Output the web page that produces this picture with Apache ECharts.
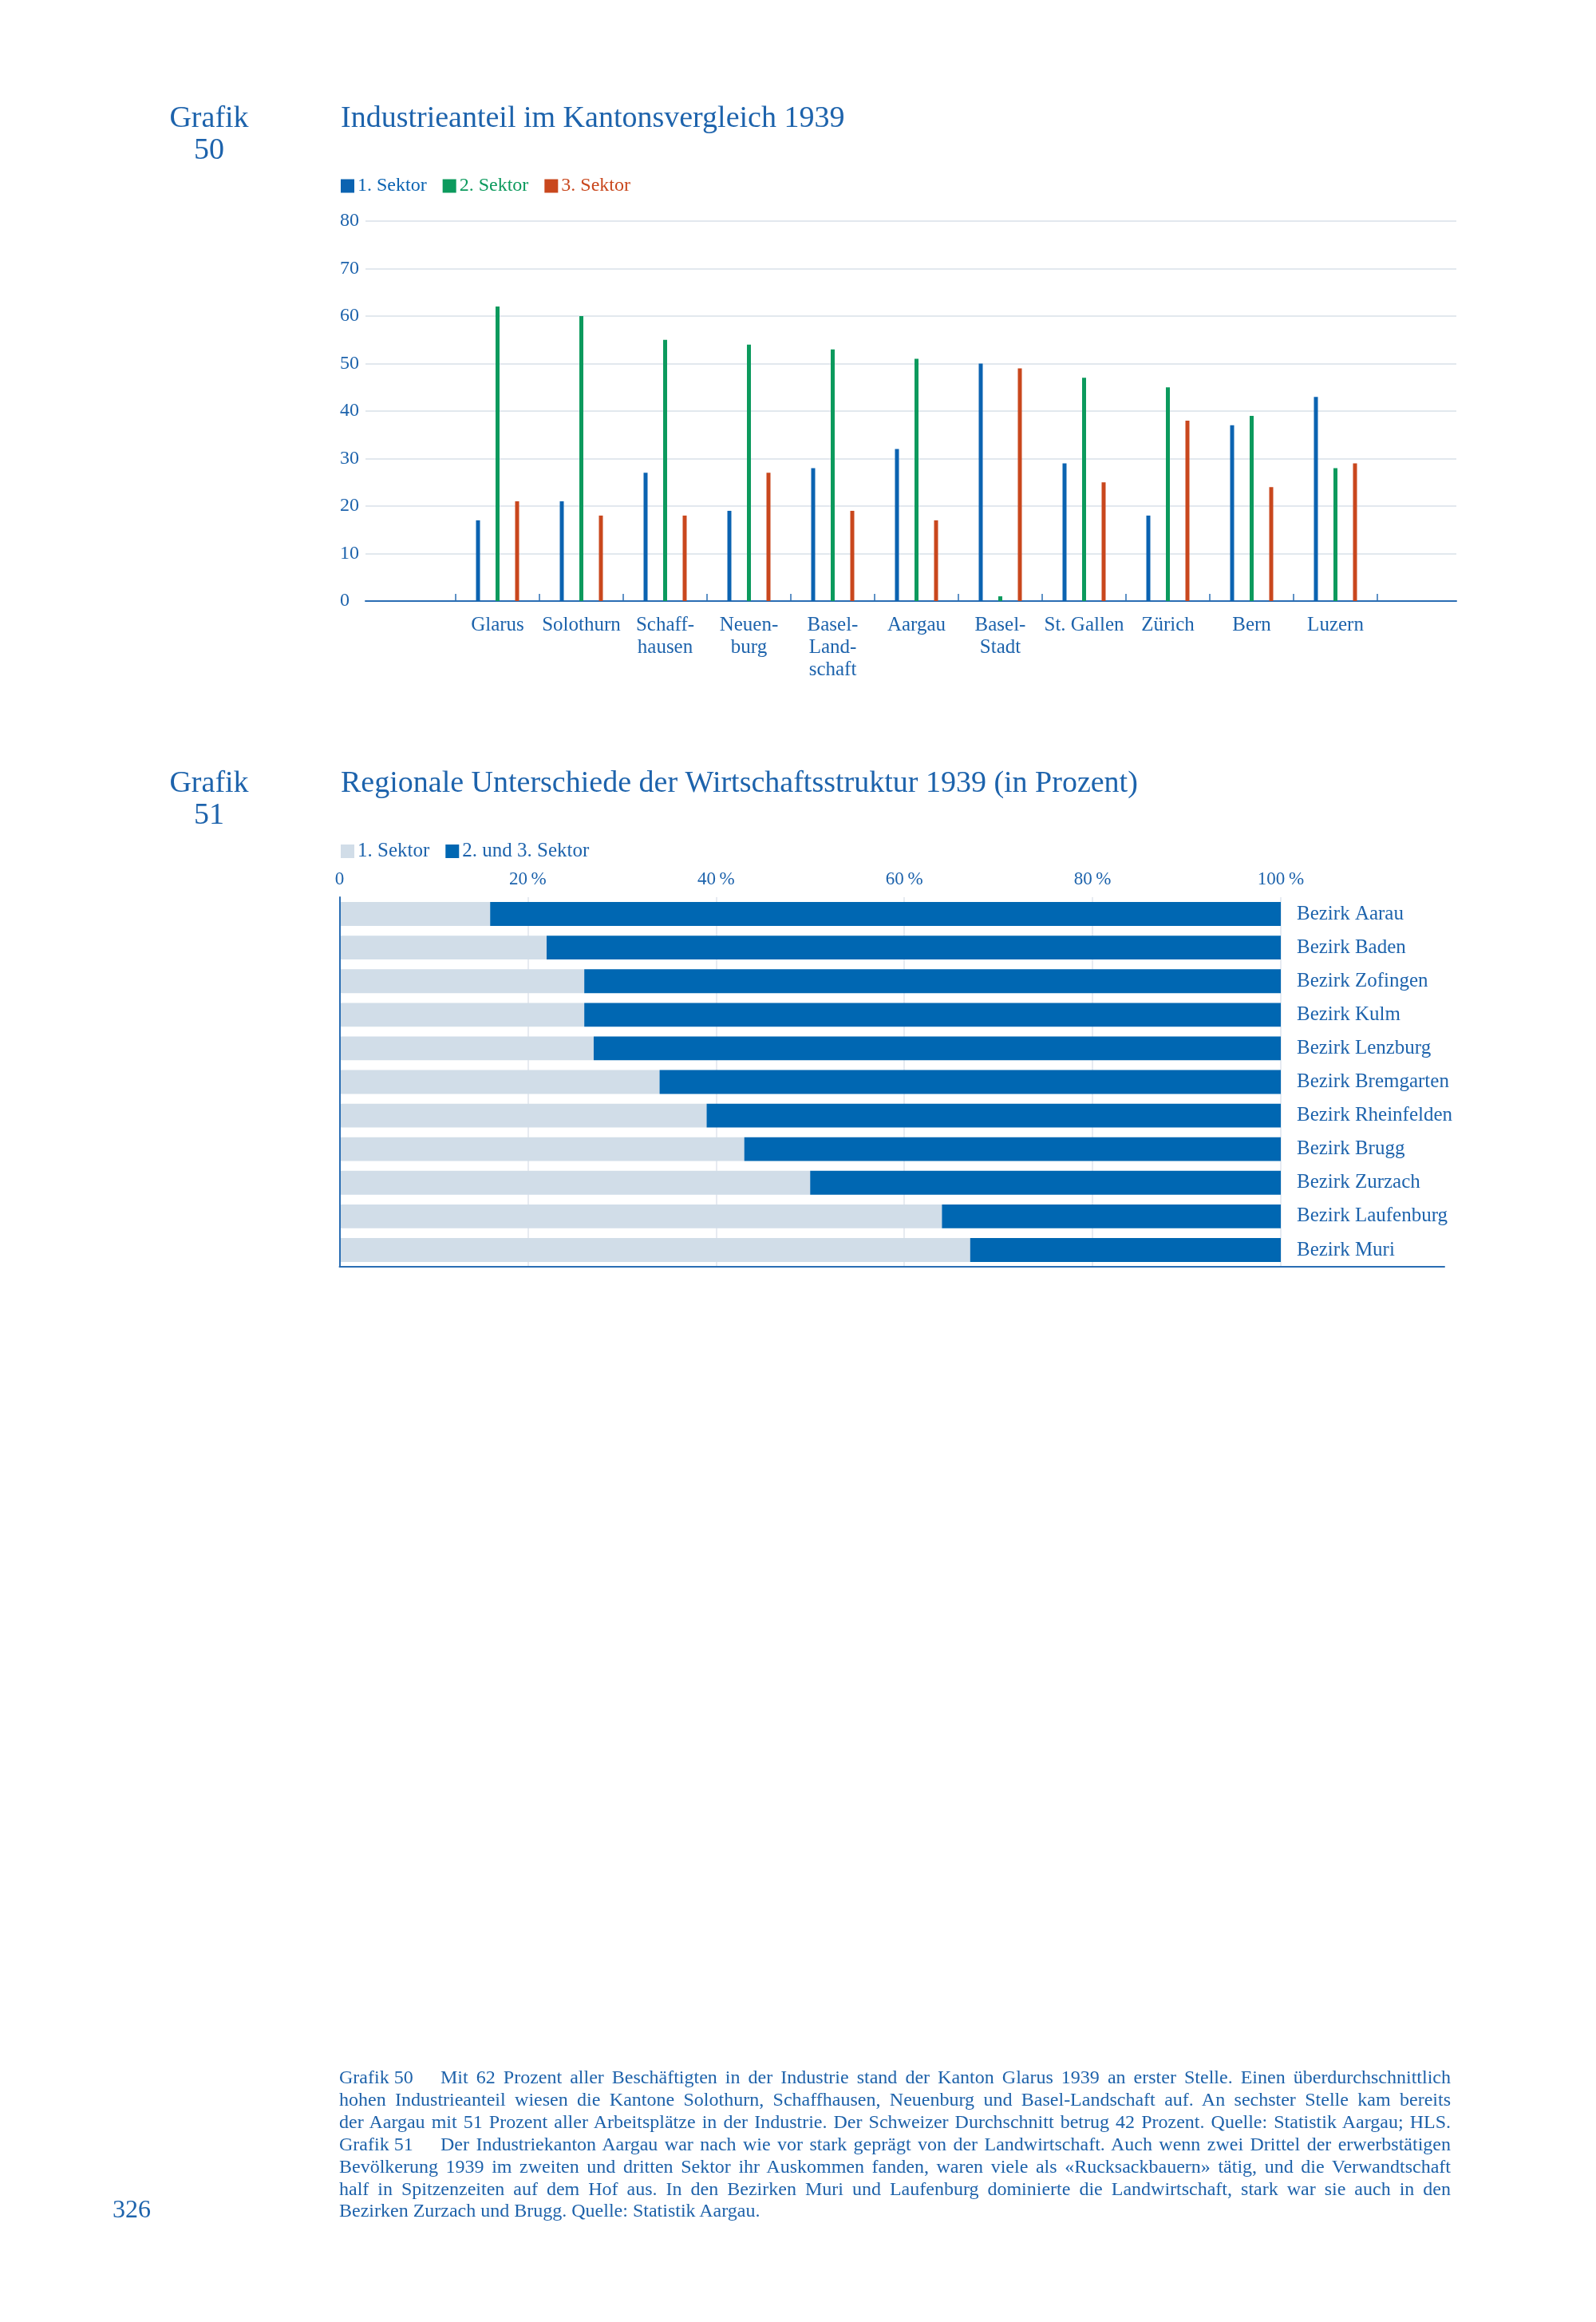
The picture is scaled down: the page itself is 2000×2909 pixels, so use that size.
<!DOCTYPE html>
<html>
<head>
<meta charset="utf-8">
<script src="https://cdn.jsdelivr.net/npm/echarts@6/dist/echarts.min.js"></script>
<style>
  html, body { margin: 0; padding: 0; background: #fff; }
  #page { position: relative; width: 2000px; height: 2909px; }
  #chart { position: absolute; left: 0; top: 0; width: 2000px; height: 2909px; }
  #caption {
    position: absolute; left: 425px; top: 2589px; width: 1393px;
    font-family: 'Liberation Serif', 'DejaVu Serif', serif;
    font-size: 24px; line-height: 27.9px; color: #1e62aa;
  }
  #caption div { text-align: justify; text-align-last: justify; white-space: nowrap; }
  #caption div.last { text-align-last: left; }
  #caption span.lead { display: inline-block; width: 127px; text-align-last: left; }
</style>
</head>
<body>
<div id="page">
  <div id="chart"></div>
  <div id="caption"></div>
</div>
<script>
// Grafik 50: share of employees per sector (%), 1939
const kantone = ['Glarus', 'Solothurn', 'Schaff-\nhausen', 'Neuen-\nburg', 'Basel-\nLand-\nschaft',
  'Aargau', 'Basel-\nStadt', 'St. Gallen', 'Zürich', 'Bern', 'Luzern'];
const sektor1 = [17, 21, 27, 19, 28, 32, 50, 29, 18, 37, 43];
const sektor2 = [62, 60, 55, 54, 53, 51, 1, 47, 45, 39, 28];
const sektor3 = [21, 18, 18, 27, 19, 17, 49, 25, 38, 24, 29];
const yTicks50 = [0, 10, 20, 30, 40, 50, 60, 70, 80];

// Grafik 51: regional structure (%), 1939
const bezirke = ['Bezirk Aarau', 'Bezirk Baden', 'Bezirk Zofingen', 'Bezirk Kulm', 'Bezirk Lenzburg',
  'Bezirk Bremgarten', 'Bezirk Rheinfelden', 'Bezirk Brugg', 'Bezirk Zurzach', 'Bezirk Laufenburg', 'Bezirk Muri'];
const ersterSektor = [16, 22, 26, 26, 27, 34, 39, 43, 50, 64, 67];
const zweiterDritter = [84, 78, 74, 74, 73, 66, 61, 57, 50, 36, 33];
const xTicks51 = [0, 20, 40, 60, 80, 100];

const captionLines = [
  ['Grafik 50', 'Mit 62 Prozent aller Beschäftigten in der Industrie stand der Kanton Glarus 1939 an erster Stelle. Einen überdurchschnittlich'],
  [null, 'hohen Industrieanteil wiesen die Kantone Solothurn, Schaffhausen, Neuenburg und Basel-Landschaft auf. An sechster Stelle kam bereits'],
  [null, 'der Aargau mit 51 Prozent aller Arbeitsplätze in der Industrie. Der Schweizer Durchschnitt betrug 42 Prozent. Quelle: Statistik Aargau; HLS.'],
  ['Grafik 51', 'Der Industriekanton Aargau war nach wie vor stark geprägt von der Landwirtschaft. Auch wenn zwei Drittel der erwerbstätigen'],
  [null, 'Bevölkerung 1939 im zweiten und dritten Sektor ihr Auskommen fanden, waren viele als «Rucksackbauern» tätig, und die Verwandtschaft'],
  [null, 'half in Spitzenzeiten auf dem Hof aus. In den Bezirken Muri und Laufenburg dominierte die Landwirtschaft, stark war sie auch in den'],
  [null, 'Bezirken Zurzach und Brugg. Quelle: Statistik Aargau.']
];

const FONT = "'Liberation Serif', 'DejaVu Serif', serif";
const TEXT = '#1d63ac';
const BLUE = '#0b63b1';
const GREEN = '#0c9a5d';
const ORANGE = '#c9471d';
const LIGHT = '#d1dde8';
const DARK = '#0067b2';
const GRIDC = '#d8e0e8';
const AXISC = '#2a6db3';

// caption as real html text, each line justified like the page
const cap = document.getElementById('caption');
captionLines.forEach((l, i) => {
  const d = document.createElement('div');
  if (i === captionLines.length - 1) d.className = 'last';
  if (l[0]) {
    const s = document.createElement('span');
    s.className = 'lead';
    s.textContent = l[0];
    d.appendChild(s);
  }
  d.appendChild(document.createTextNode(l[1]));
  cap.appendChild(d);
});

const chart = echarts.init(document.getElementById('chart'), null, { renderer: 'canvas' });

const titleStyle = { fontFamily: FONT, fontSize: 38, fontWeight: 'normal', color: TEXT, lineHeight: 40 };

const option = {
  backgroundColor: '#fff',
  animation: false,
  textStyle: { fontFamily: FONT },
  title: [
    { text: 'Grafik\n50', left: 257, top: 124, textAlign: 'center', textStyle: titleStyle },
    { text: 'Industrieanteil im Kantonsvergleich 1939', left: 422, top: 124, textStyle: titleStyle },
    { text: 'Grafik\n51', left: 257, top: 957, textAlign: 'center', textStyle: titleStyle },
    { text: 'Regionale Unterschiede der Wirtschaftsstruktur 1939 (in Prozent)', left: 422, top: 957, textStyle: titleStyle },
    { text: '326', left: 136, top: 2749, textStyle: { fontFamily: FONT, fontSize: 32, fontWeight: 'normal', color: TEXT } }
  ],
  legend: [
    {
      left: 422, top: 216, icon: 'rect', itemWidth: 17, itemHeight: 17, itemGap: 20,
      selectedMode: false,
      textStyle: { fontFamily: FONT, fontSize: 24, padding: [0, 0, 0, -1] },
      data: [
        { name: '1. Sektor', textStyle: { color: BLUE } },
        { name: '2. Sektor', textStyle: { color: GREEN } },
        { name: '3. Sektor', textStyle: { color: ORANGE } }
      ]
    },
    {
      left: 422, top: 1049, icon: 'rect', itemWidth: 17, itemHeight: 17, itemGap: 20,
      selectedMode: false,
      textStyle: { fontFamily: FONT, fontSize: 25, color: TEXT, padding: [0, 0, 0, -1] },
      formatter: (n) => n.replace(' (Bezirke)', ''),
      data: ['1. Sektor (Bezirke)', '2. und 3. Sektor']
    }
  ],
  grid: [
    { left: 458, right: 175, top: 277, height: 476 },   // chart 50: gridlines + axis line
    { left: 571, width: 1155, top: 277, height: 476 },  // chart 50: categories
    { left: 425.5, width: 1179.5, top: 1124, height: 463 }, // chart 51: bars
    { left: 425.5, right: 190, top: 1124, height: 463 }  // chart 51: bottom rule
  ],
  xAxis: [
    {
      gridIndex: 0, type: 'value', min: 0, max: 1,
      axisLine: { show: true, lineStyle: { color: AXISC, width: 2 } },
      axisTick: { show: false }, axisLabel: { show: false }, splitLine: { show: false }
    },
    {
      gridIndex: 1, type: 'category', data: kantone,
      axisLine: { show: false },
      axisTick: { show: true, inside: true, length: 9, lineStyle: { color: AXISC, width: 1.5 } },
      axisLabel: { interval: 0, margin: 16, fontFamily: FONT, fontSize: 25, lineHeight: 28, color: TEXT },
      splitLine: { show: false }
    },
    {
      gridIndex: 2, type: 'value', position: 'top', min: 0, max: 100, interval: 20,
      axisLine: { show: false }, axisTick: { show: false },
      axisLabel: {
        margin: 11, fontFamily: FONT, fontSize: 23, color: TEXT,
        formatter: (v) => (xTicks51.includes(v) ? (v === 0 ? '0' : v + '\u2009%') : '')
      },
      splitLine: { show: true, lineStyle: { color: '#dfe5ec', width: 1.5 } }
    },
    {
      gridIndex: 3, type: 'value', min: 0, max: 1,
      axisLine: { show: true, lineStyle: { color: AXISC, width: 2 } },
      axisTick: { show: false }, axisLabel: { show: false }, splitLine: { show: false }
    }
  ],
  yAxis: [
    {
      gridIndex: 0, type: 'value', min: yTicks50[0], max: yTicks50[yTicks50.length - 1], interval: 10,
      axisLine: { show: false }, axisTick: { show: false },
      axisLabel: { align: 'left', margin: 32, fontFamily: FONT, fontSize: 24, color: TEXT },
      splitLine: { show: true, lineStyle: { color: GRIDC, width: 1.5 } }
    },
    { gridIndex: 1, type: 'value', min: 0, max: 80, show: false },
    {
      gridIndex: 2, type: 'category', data: bezirke, inverse: true, position: 'right',
      axisLine: { show: false }, axisTick: { show: false },
      axisLabel: { margin: 20, fontFamily: FONT, fontSize: 25, color: TEXT }
    },
    {
      gridIndex: 2, type: 'category', data: bezirke, inverse: true, position: 'left', z: 10,
      axisLine: { show: true, lineStyle: { color: AXISC, width: 2 } },
      axisTick: { show: false }, axisLabel: { show: false }
    },
    { gridIndex: 3, type: 'value', show: false }
  ],
  series: [
    { name: '1. Sektor', type: 'bar', xAxisIndex: 1, yAxisIndex: 1, data: sektor1,
      barWidth: 5, barGap: '390%', itemStyle: { color: BLUE } },
    { name: '2. Sektor', type: 'bar', xAxisIndex: 1, yAxisIndex: 1, data: sektor2,
      barWidth: 5, barGap: '390%', itemStyle: { color: GREEN } },
    { name: '3. Sektor', type: 'bar', xAxisIndex: 1, yAxisIndex: 1, data: sektor3,
      barWidth: 5, barGap: '390%', itemStyle: { color: ORANGE } },
    { name: '1. Sektor (Bezirke)', type: 'bar', stack: 'b', xAxisIndex: 2, yAxisIndex: 2, data: ersterSektor,
      barCategoryGap: '29%', itemStyle: { color: LIGHT } },
    { name: '2. und 3. Sektor', type: 'bar', stack: 'b', xAxisIndex: 2, yAxisIndex: 2, data: zweiterDritter,
      barCategoryGap: '29%', itemStyle: { color: DARK } }
  ]
};

chart.setOption(option);
</script>
</body>
</html>
